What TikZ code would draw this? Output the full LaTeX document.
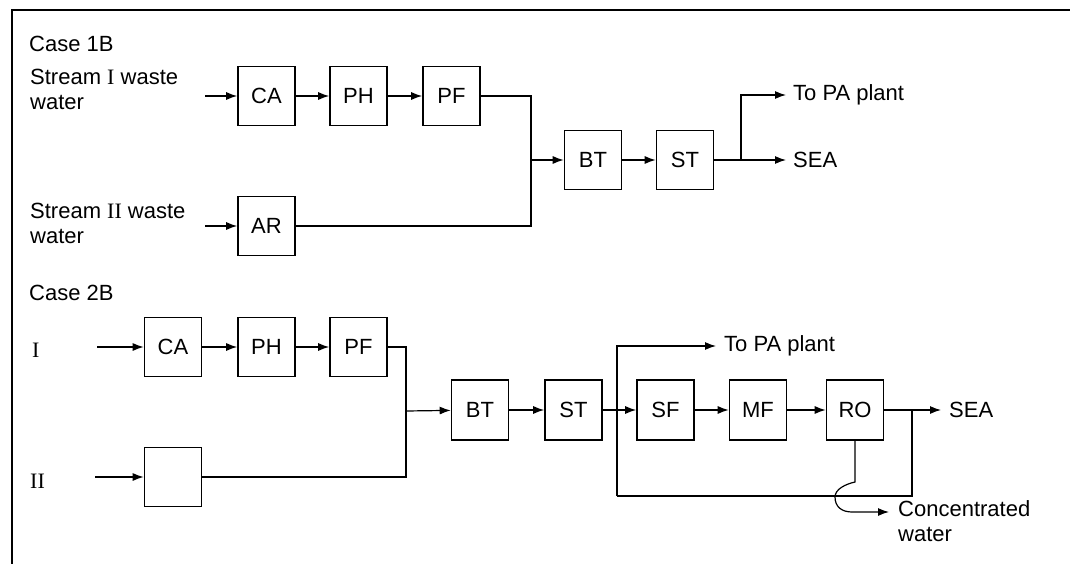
\documentclass[tikz,border=0pt]{standalone}
\usepackage{fontspec}
\setmainfont{Liberation Sans}
\newfontfamily\romfont{Liberation Serif}
\usetikzlibrary{arrows.meta}
\newcommand\lblsize{\fontsize{22}{26}\selectfont}
\newcommand\txtsize{\fontsize{22}{25}\selectfont}
\tikzset{
  box/.style={draw, line width=1.6pt, minimum width=57pt, minimum height=59pt, inner sep=0pt, font=\lblsize},
  arr/.style={-{Latex[length=11pt,width=8pt]}, line width=1.2pt},
  ln/.style={line width=1.2pt},
  txt/.style={anchor=west, align=left, inner sep=0pt, font=\txtsize},
  frameln/.style={line width=2.4pt}
}
\begin{document}
\begin{tikzpicture}[x=1pt,y=-1pt]
\useasboundingbox (0,0) rectangle (1070,564);
% frame
\coordinate (fbl) at (12,564);
\coordinate (ftl) at (12,10);
\coordinate (ftr) at (1070,10);
\draw[frameln] (fbl) -- (ftl) -- (ftr);

% ---------- Case 1B ----------
\node[txt] (c1) at (29,44) {Case 1B};
\node[txt] (s1t) at (30,89) {Stream {\romfont I} waste\\water};
\node[txt] (s2t) at (30,223) {Stream {\romfont II} waste\\water};

\node[box] (ca1) at (266.5,96) {CA};
\node[box] (ph1) at (358.5,96) {PH};
\node[box] (pf1) at (451.5,96) {PF};
\node[box] (ar1) at (266.5,226) {AR};
\node[box] (bt1) at (593,160) {BT};
\node[box] (st1) at (685,160) {ST};

\coordinate (in1) at (205,96);
\coordinate (in2) at (205,226);
\coordinate (m1) at (531,160);
\coordinate (sp1) at (741,160);
\node[txt] (pa1) at (793,95) {To PA plant};
\node[txt] (sea1) at (793,160) {SEA};

\draw[arr] (in1) -- (ca1);
\draw[arr] (ca1) -- (ph1);
\draw[arr] (ph1) -- (pf1);
\draw[arr] (in2) -- (ar1);
\draw[ln] (pf1.east) -| (m1);
\draw[ln] (ar1.east) -| (m1);
\draw[arr] (m1) -- (bt1);
\draw[arr] (bt1) -- (st1);
\draw[ln] (st1.east) -- (sp1);
\draw[arr] (sp1) |- ([xshift=-7pt]pa1.west);
\draw[arr] (sp1) -- ([xshift=-7pt]sea1.west);

% ---------- Case 2B ----------
\node[txt] (c2) at (29,293) {Case 2B};
\node[txt] (r1) at (32,350) {\romfont I};
\node[txt] (r2) at (30,481) {\romfont II};

\node[box] (ca2) at (173,347) {CA};
\node[box] (ph2) at (266.5,347) {PH};
\node[box] (pf2) at (358.5,347) {PF};
\node[box] (emp) at (173,477) {};
\node[box,minimum height=60pt] (bt2) at (480,410) {BT};
\node[box,minimum height=60pt] (st2) at (573.5,410) {ST};
\node[box,minimum height=60pt] (sf2) at (665.5,410) {SF};
\node[box,minimum height=60pt] (mf2) at (758,410) {MF};
\node[box,minimum height=60pt] (ro2) at (855,410) {RO};

\coordinate (in3) at (97,347);
\coordinate (in4) at (95,477);
\coordinate (m2) at (406,411);
\coordinate (vb) at (617,496);
\coordinate (vr) at (912,496);
\coordinate (jr) at (912,410);
\coordinate (ho) at (855,482);
\coordinate (cwa) at (889,512);
\node[txt] (pa2) at (724,346) {To PA plant};
\node[txt] (sea2) at (949,410) {SEA};
\node[txt, anchor=north west] (cw) at (898,500) {Concentrated\\water};

\draw[arr] (in3) -- (ca2);
\draw[arr] (ca2) -- (ph2);
\draw[arr] (ph2) -- (pf2);
\draw[arr] (in4) -- (emp);
\draw[ln] (pf2.east) -| (m2);
\draw[ln] (emp.east) -| (m2);
\draw[arr] (m2) -- (bt2);
\draw[arr] (bt2) -- (st2);
\draw[arr] (st2) -- (sf2);
\draw[arr] (sf2) -- (mf2);
\draw[arr] (mf2) -- (ro2);
\draw[arr] (ro2) -- ([xshift=-8pt]sea2.west);
\draw[arr] (vb) |- ([xshift=-8pt]pa2.west);
\draw[ln] (vb) -- (vr) -- (jr);
\draw[arr] (ro2.south) -- (ho) .. controls (846,484) and (835,489) .. (835,497)
  .. controls (835,507) and (842,512) .. (852,512) -- (cwa);
\end{tikzpicture}
\end{document}
